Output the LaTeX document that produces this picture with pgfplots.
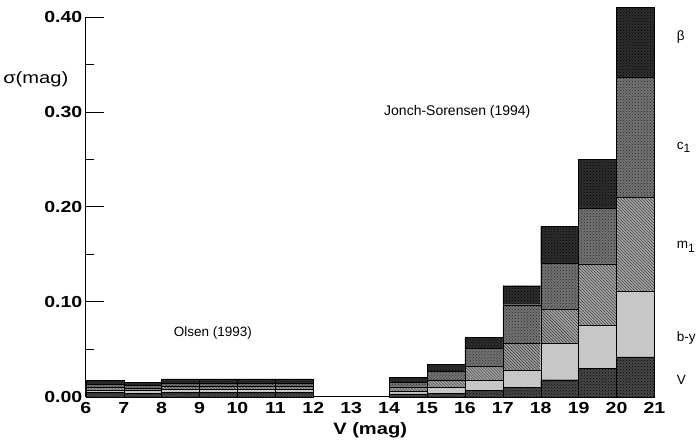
\documentclass[border=0pt]{standalone}
\usepackage{fontspec}
\setmainfont{Liberation Sans}
\newfontfamily\widefont[FakeStretch=1.22]{Liberation Sans}
\usepackage{pgfplots}
\usepackage{pgfplotstable}
\pgfplotsset{compat=1.18}
\usetikzlibrary{patterns}
\pgfplotstableread{
x     V      by     mone   cone   beta
6.5   0.0045 0.0025 0.0030 0.0030 0.0040
7.5   0.0040 0.0025 0.0025 0.0030 0.0035
8.5   0.0050 0.0030 0.0030 0.0035 0.0045
9.5   0.0050 0.0030 0.0030 0.0035 0.0045
10.5  0.0050 0.0030 0.0030 0.0035 0.0045
11.5  0.0050 0.0030 0.0030 0.0035 0.0045
14.5  0.0030 0.0030 0.0046 0.0050 0.0049
15.5  0.0040 0.0060 0.0070 0.0100 0.0070
16.5  0.0066 0.0104 0.0150 0.0190 0.0116
17.5  0.0100 0.0180 0.0285 0.0405 0.0200
18.5  0.0180 0.0387 0.0355 0.0490 0.0380
19.5  0.0300 0.0450 0.0650 0.0590 0.0510
20.5  0.0420 0.0696 0.0984 0.1270 0.0730
}\errtable
\begin{document}
\begin{tikzpicture}
\begin{axis}[
    width=569pt, height=380pt, scale only axis,
    xmin=6, xmax=21, ymin=0, ymax=0.40,
    clip=false,
    axis lines*=left,
    ybar stacked, bar width=1, bar shift=0pt,
    xtick={6,...,21},
    xtick style={draw=none},
    ytick={0,0.1,0.2,0.3,0.4},
    minor ytick={0.05,0.15,0.25,0.35},
    tick align=inside,
    major tick length=18pt, minor tick length=8pt,
    yticklabel style={/pgf/number format/fixed, /pgf/number format/fixed zerofill,
        /pgf/number format/precision=2, font=\widefont\bfseries\fontsize{16}{18}\selectfont},
    xticklabel style={font=\widefont\bfseries\fontsize{16}{18}\selectfont, yshift=-2pt},
    /pgf/number format/assume math mode=true,
    scaled y ticks=false,
    axis line style={line width=1pt},
    every tick/.style={line width=1pt, black},
    xlabel={V (mag)},
    xlabel style={font=\widefont\bfseries\fontsize{16.5}{18}\selectfont, yshift=-2pt},
]
\addplot[draw=black, fill=black!72, postaction={pattern=crosshatch dots, pattern color=black}] table[x=x, y=V] {\errtable};
\addplot[draw=black, fill=black!22] table[x=x, y=by] {\errtable};
\addplot[draw=black, fill=black!35, postaction={pattern=north west lines, pattern color=black!85}] table[x=x, y=mone] {\errtable};
\addplot[draw=black, fill=black!55, postaction={pattern=crosshatch dots, pattern color=black!85}] table[x=x, y=cone] {\errtable};
\addplot[draw=black, fill=black!82, postaction={pattern=crosshatch dots, pattern color=black}] table[x=x, y=beta] {\errtable};
\path (axis cs:20.5,0.418) circle (0pt);
\node[font=\widefont\fontsize{16.5}{18}\selectfont] at (rel axis cs:-0.088,0.835) {σ(mag)};
\node[font=\fontsize{13.5}{16}\selectfont] at (axis cs:9.35,0.067) {Olsen (1993)};
\node[font=\fontsize{14}{16}\selectfont] at (axis cs:15.8,0.30) {Jonch-Sorensen (1994)};
\node[font=\fontsize{13.5}{16}\selectfont, anchor=west] at (axis cs:21.5,0.379) {β};
\node[font=\fontsize{13.5}{16}\selectfont, anchor=west] at (axis cs:21.5,0.263) {c\raisebox{-0.45ex}{\fontsize{12}{14}\selectfont 1}};
\node[font=\fontsize{13.5}{16}\selectfont, anchor=west] at (axis cs:21.5,0.158) {m\raisebox{-0.45ex}{\fontsize{12}{14}\selectfont 1}};
\node[font=\fontsize{13.5}{16}\selectfont, anchor=west] at (axis cs:21.5,0.062) {b-y};
\node[font=\fontsize{13.5}{16}\selectfont, anchor=west] at (axis cs:21.5,0.018) {V};
\end{axis}
\end{tikzpicture}
\end{document}
